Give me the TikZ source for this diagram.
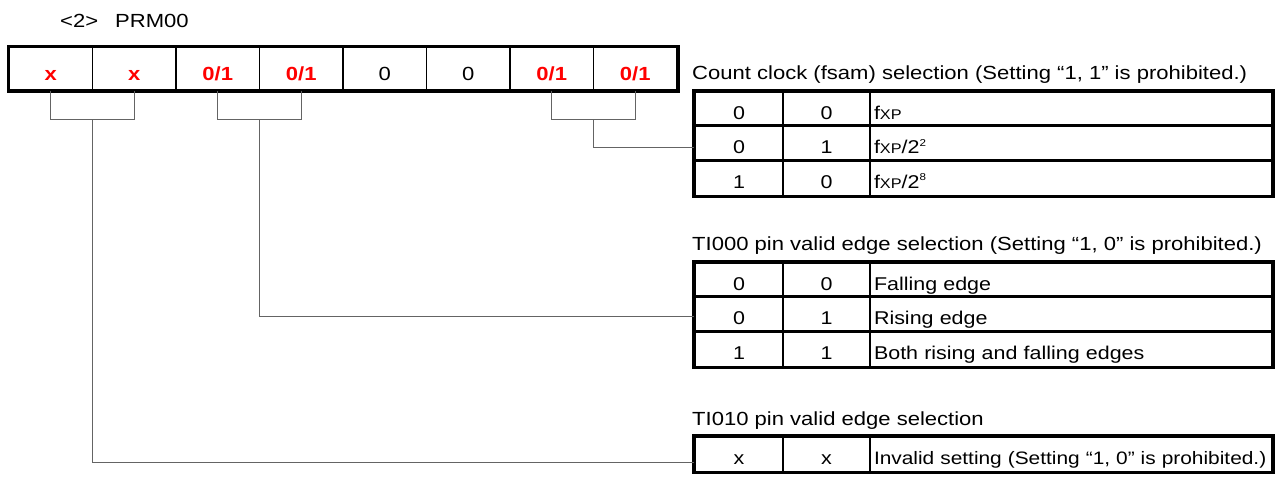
\documentclass[tikz,border=0pt]{standalone}
\usepackage{fontspec}
\setmainfont[FakeStretch=1.16]{Liberation Sans}
\usetikzlibrary{positioning,calc}

\definecolor{bitred}{RGB}{255,0,0}
\definecolor{wiregray}{RGB}{100,100,100}

% small pieces of the clock names
\newcommand{\xp}{{\fontsize{14}{14}\selectfont XP}}
\newcommand{\pw}[1]{\raisebox{7.5pt}{\fontsize{10}{10}\selectfont #1}}

\begin{document}
\begin{tikzpicture}[
  x=1pt, y=-1pt,
  font=\fontsize{19}{22}\selectfont,
  bit/.style={draw, line width=1.5pt, minimum width=83.5pt, minimum height=43pt, inner sep=0pt, text height=23pt, text depth=0pt},
  setbit/.style={bit, text=bitred, font=\fontsize{19}{22}\selectfont\bfseries},
  cell/.style={draw, line width=1.8pt, minimum height=34.5pt, inner sep=0pt, text height=20pt, text depth=0pt, font=\fontsize{18.5}{22}\selectfont},
  cola/.style={cell, minimum width=88pt},
  colb/.style={cell, minimum width=87pt},
  colc/.style={cell, text width=394pt, inner xsep=4pt, align=left},
  frame/.style={line width=3.3pt},
  rowline/.style={line width=2.4pt},
  wire/.style={draw=wiregray, line width=1pt},
  title/.style={anchor=base west, inner sep=0pt}
]
\useasboundingbox (0,0) rectangle (1277,477);

\node[title] (reg) at (60,27) {<2>\hspace{17pt}PRM00};

% register bits 7..0
\foreach \v/\s [count=\i] in {x/setbit, x/setbit, {0/1}/setbit, {0/1}/setbit, 0/bit, 0/bit, {0/1}/setbit, {0/1}/setbit}
  \node[\s] (c\i) at ({50.75+83.5*(\i-1)}, 68.5) {\v};
\draw[line width=3.5pt] (c1.north west) rectangle (c8.south east);

% count clock table
\foreach \p/\q/\t [count=\n] in {0/0/{f\xp}, 0/1/{f\xp/2\pw{2}}, 1/0/{f\xp/2\pw{8}}} {
  \node[cola] (ta-\n-a) at (739, {92+34.5*(\n-0.5)}) {\p};
  \node[colb] (ta-\n-b) at (826.5, {92+34.5*(\n-0.5)}) {\q};
  \node[colc] (ta-\n-c) at (1071, {92+34.5*(\n-0.5)}) {\mbox{\t}};
}
\draw[rowline] (ta-2-a.north west) -- (ta-2-c.north east);
\draw[rowline] (ta-3-a.north west) -- (ta-3-c.north east);
\draw[frame] (ta-1-a.north west) rectangle (ta-3-c.south east);
\node[title] (ca) at (692,79) {Count clock (fsam) selection (Setting “1, 1” is prohibited.)};

% TI000 edge table
\foreach \p/\q/\t [count=\n] in {0/0/Falling edge, 0/1/Rising edge, 1/1/Both rising and falling edges} {
  \node[cola] (tb-\n-a) at (739, {263+34.5*(\n-0.5)}) {\p};
  \node[colb] (tb-\n-b) at (826.5, {263+34.5*(\n-0.5)}) {\q};
  \node[colc] (tb-\n-c) at (1071, {263+34.5*(\n-0.5)}) {\mbox{\t}};
}
\draw[rowline] (tb-2-a.north west) -- (tb-2-c.north east);
\draw[rowline] (tb-3-a.north west) -- (tb-3-c.north east);
\draw[frame] (tb-1-a.north west) rectangle (tb-3-c.south east);
\node[title] (cb) at (692,250) {TI000 pin valid edge selection (Setting “1, 0” is prohibited.)};

% TI010 edge table
\node[cola] (tc-1-a) at (739, 454.25) {x};
\node[colb] (tc-1-b) at (826.5, 454.25) {x};
\node[colc, font=\fontsize{18}{22}\selectfont] (tc-1-c) at (1071, 454.25) {\mbox{Invalid setting (Setting “1, 0” is prohibited.)}};
\draw[frame] (tc-1-a.north west) rectangle (tc-1-c.south east);
\node[title] (cc) at (692,425) {TI010 pin valid edge selection};

% brackets under the bit pairs and their leads
\coordinate (ja) at ($(ta-2-a.west)+(0,4)$);
\coordinate (jb) at ($(tb-2-a.west)+(0,2)$);
\coordinate (jc) at ($(tc-1-a.west)+(0,8)$);

\draw[wire] (c7.south) |- ($(c8.south)+(0,29)$) -- (c8.south);
\draw[wire] ($(c7.south)!0.5!(c8.south)+(0,29)$) |- (ja);
\draw[wire] (c3.south) |- ($(c4.south)+(0,29)$) -- (c4.south);
\draw[wire] ($(c3.south)!0.5!(c4.south)+(0,29)$) |- (jb);
\draw[wire] (c1.south) |- ($(c2.south)+(0,29)$) -- (c2.south);
\draw[wire] ($(c1.south)!0.5!(c2.south)+(0,29)$) |- (jc);
\end{tikzpicture}
\end{document}
